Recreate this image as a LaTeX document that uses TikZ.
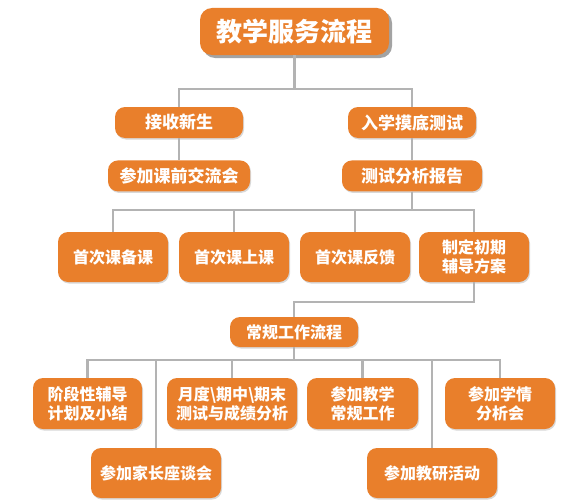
\documentclass[tikz,border=0pt]{standalone}
\usepackage{fontspec}
\newfontfamily\cjk{Noto Sans CJK SC}
\usetikzlibrary{positioning,shadows}
\definecolor{boxorange}{HTML}{E97F2B}
\definecolor{linkgray}{HTML}{B3B3B3}

\begin{document}
\begin{tikzpicture}[x=1pt,y=-1pt,
    basebox/.style={fill=boxorange, text=white, rounded corners=10pt, inner sep=0pt,
        align=center, minimum height=31pt, font=\cjk\bfseries\fontsize{16}{19}\selectfont},
    box/.style={basebox, drop shadow={shadow xshift=1pt, shadow yshift=-1.5pt, fill=black!30, opacity=0.5}},
    topbox/.style={box, font=\cjk\bfseries\fontsize{17}{20}\selectfont},
    titlebox/.style={basebox, rounded corners=12pt, minimum width=189pt, minimum height=47pt,
        font=\cjk\bfseries\fontsize{26}{30}\selectfont,
        drop shadow={shadow xshift=3pt, shadow yshift=-3pt, fill=black!45, opacity=0.8}},
    link/.style={draw=linkgray, line width=2.2pt}]
    \fill[white] (0,0) rectangle (580,503);
    \useasboundingbox (0,0) rectangle (580,503);

    % Nodes
    \node (title) [titlebox] at (294.5,31.5) {教学服务流程};

    \node (recv) [topbox, minimum width=128pt] at (179,122.5) {接收新生};
    \node (test) [topbox, minimum width=128pt] at (412,122.5) {入学摸底测试};
    \node (meet) [topbox, below=22pt of recv, minimum width=142pt] {参加课前交流会};
    \node (report) [topbox, below=22pt of test, minimum width=140pt] {测试分析报告};

    \node (prep) [box, minimum width=110pt, minimum height=50pt] at (113,257) {首次课备课};
    \node (lesson) [box, minimum width=110pt, minimum height=50pt] at (234,257) {首次课上课};
    \node (feedback) [box, minimum width=110pt, minimum height=50pt] at (355,257) {首次课反馈};
    \node (plan) [box, minimum width=110pt, minimum height=50pt] at (474,257) {制定初期\\辅导方案};

    \node (routine) [box, minimum width=128pt, minimum height=30pt] at (294,332) {常规工作流程};

    \node (stage) [box, minimum width=109pt, minimum height=51pt] at (87.5,403.5) {阶段性辅导\\计划及小结};
    \node (exam) [box, minimum width=130pt, minimum height=51pt] at (232,403.5) {月度\textbackslash 期中\textbackslash 期末\\测试与成绩分析};
    \node (daily) [box, minimum width=111pt, minimum height=51pt] at (362.5,403.5) {参加教学\\常规工作};
    \node (analysis) [box, minimum width=110pt, minimum height=51pt] at (500,403.5) {参加学情\\分析会};

    \node (parent) [box, minimum width=130pt, minimum height=50pt] at (156,473) {参加家长座谈会};
    \node (research) [box, minimum width=130pt, minimum height=50pt] at (432,473) {参加教研活动};

    % Connectors
    \draw[link] (title.south) -- ++(0,34) -| (recv.north);
    \draw[link] (title.south) -- ++(0,34) -| (test.north);
    \draw[link] (recv) -- (meet);
    \draw[link] (test) -- (report);

    \draw[link] (report.south) -- ++(0,18) -| (prep.north);
    \draw[link] (report.south) -- ++(0,18) -| (lesson.north);
    \draw[link] (report.south) -- ++(0,18) -| (feedback.north);
    \draw[link] (report.south) -- ++(0,18) -| (plan.north);

    \draw[link] (plan.south) -- ++(0,20) -| (routine.north);

    \draw[link] (routine.south) -- ++(0,13) -| (stage.north);
    \draw[link] (routine.south) -- ++(0,13) -| (parent.north);
    \draw[link] (routine.south) -- ++(0,13) -| (exam.north);
    \draw[link] (routine.south) -- ++(0,13) -| (daily.north);
    \draw[link] (routine.south) -- ++(0,13) -| (research.north);
    \draw[link] (routine.south) -- ++(0,13) -| (analysis.north);
\end{tikzpicture}
\end{document}
